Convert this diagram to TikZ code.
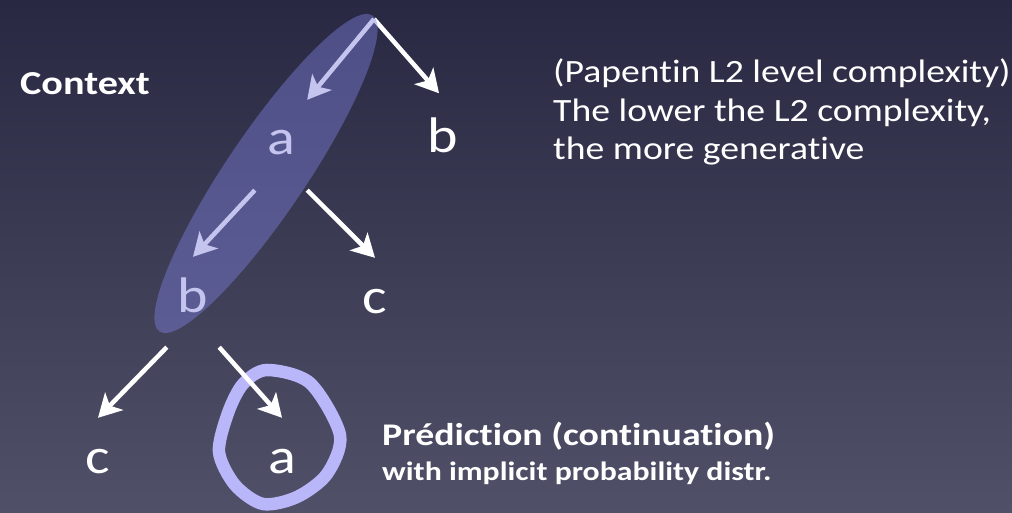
\documentclass[tikz,border=0pt]{standalone}
\usepackage{fontspec}
\setmainfont{Carlito}[FakeStretch=1.16,Ligatures=NoCommon]
\newfontfamily\boldface{Carlito}[FakeStretch=1.2,UprightFont=*-Bold,Ligatures=NoCommon]
\usetikzlibrary{arrows.meta,shapes.geometric}
\definecolor{bgtop}{RGB}{40,40,66}
\definecolor{bgbot}{RGB}{80,80,104}
\definecolor{ctxblue}{RGB}{126,126,220}
\definecolor{ringlav}{RGB}{186,182,250}
\tikzset{
  sym/.style={inner sep=0pt,minimum width=52pt,text height=55pt,text depth=35pt,anchor=base,text=white,font=\fontsize{50}{50}\selectfont},
  arr/.style={-{Stealth[length=23pt,width=25pt,inset=6pt]},line width=4.5pt,white},
  ctxblk/.style={ellipse,fill=ctxblue,fill opacity=0.45,minimum width=381pt,minimum height=80pt,inner sep=0pt},
  ring/.style={draw=ringlav,line width=12.5pt},
  lbl/.style={anchor=base west,text=white,inner sep=0pt,align=left}
}
\begin{document}
\begin{tikzpicture}[x=1pt,y=-1pt]
  \shade[top color=bgtop,bottom color=bgbot] (0,0) rectangle (1012,513);
  \useasboundingbox (0,0) rectangle (1012,513);

  % predicted symbol, circled
  \draw[ring] plot[smooth cycle] coordinates {(267,370) (310,383) (340,435) (327,474) (297,497) (263,504) (235,485) (219,452) (228,413) (243,384)};

  \coordinate (root) at (374,19);
  \node[sym] (a1) at (281,155) {a};
  \node[sym] (b1) at (443,153) {b};
  \node[sym] (b2) at (193,312) {b};
  \node[sym] (c2) at (375,313) {c};
  \node[sym] (c3) at (98,473) {c};
  \node[sym] (a3) at (282,473) {a};

  \draw[arr] (root) -- (a1.north east);
  \draw[arr,shorten >=6pt] (root) -- (b1.north);
  \foreach \p/\q/\r in {a1/b2/c2, b2/c3/a3}{
    \draw[arr] (\p.south west) -- (\q.north);
    \draw[arr] (\p.south east) -- (\r.north);
  }

  % context window
  \node[ctxblk,rotate=56] (ctx) at (266,173.5) {};

  \node[lbl,font=\boldface\fontsize{33.5}{33.5}\selectfont] (ctxlbl) at (20,95) {Context};
  \node[lbl,font=\fontsize{32.5}{38.5}\selectfont] (note) at (553,160) {(Papentin L2 level complexity)\\The lower the L2 complexity,\\the more generative};
  \node[lbl,font=\boldface\fontsize{31.5}{31.5}\selectfont] (pred) at (382,445) {Prédiction (continuation)};
  \node[lbl,font=\boldface\fontsize{26.5}{26.5}\selectfont] (distr) at (382,480) {with implicit probability distr.};
\end{tikzpicture}
\end{document}
